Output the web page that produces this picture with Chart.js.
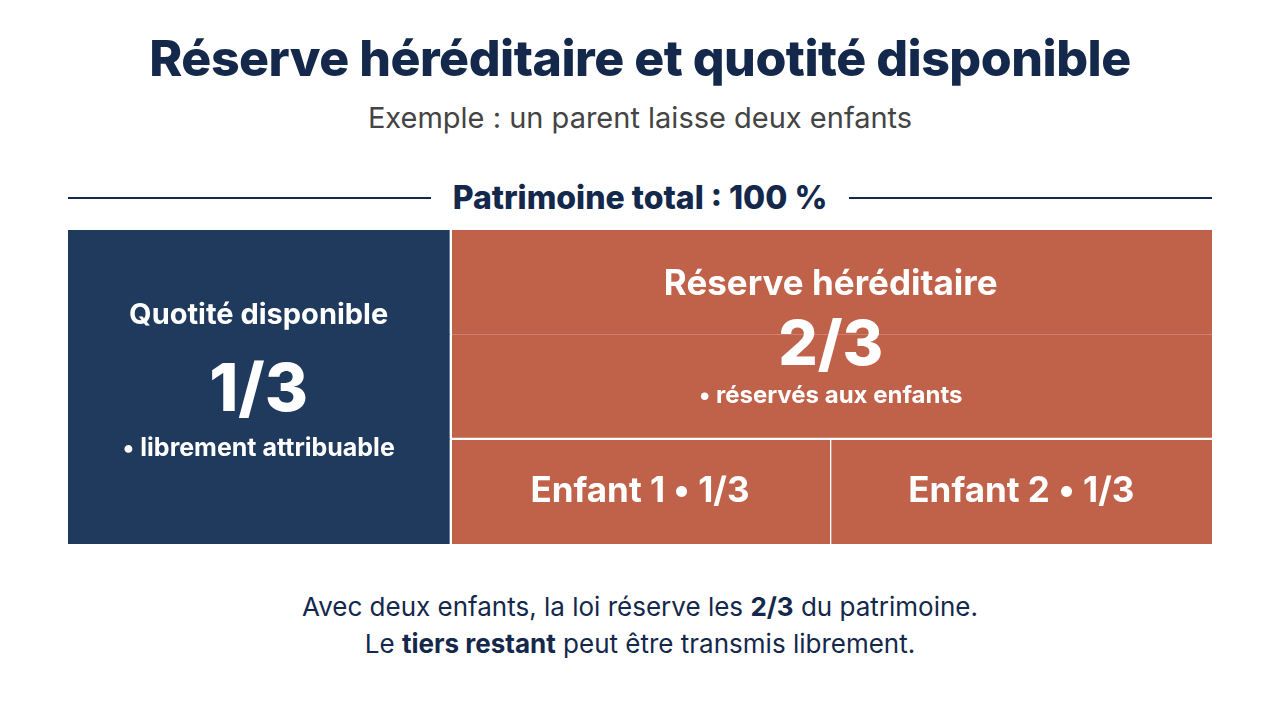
<!DOCTYPE html>
<html><head><meta charset="utf-8">
<script src="https://cdn.jsdelivr.net/npm/chart.js@4"></script>
<style>
  body{margin:0;width:1280px;height:720px;background:#fff;font-family:Inter,"Noto Sans",sans-serif;color:#14284b;position:relative;overflow:hidden}
  h1{position:absolute;top:28px;left:0;width:1280px;text-align:center;margin:0;font-size:50px;font-weight:800;letter-spacing:-0.5px}
  .sub{position:absolute;top:100px;width:1280px;text-align:center;font-size:29px;color:#444}
  .head{position:absolute;top:178px;left:68px;width:1144px;display:flex;align-items:center;gap:22px;font-size:32px;font-weight:800}
  .head span.l{flex:1;height:2px;background:#14284b}
  #wrap{position:absolute;left:68px;top:230px;width:1144px;height:314px}
  .foot{position:absolute;top:588px;width:1280px;text-align:center;font-size:26px;line-height:37px;color:#14284b}
</style></head><body>
<h1>Réserve héréditaire et quotité disponible</h1>
<div class="sub">Exemple : un parent laisse deux enfants</div>
<div class="head"><span class="l"></span>Patrimoine total : 100 %<span class="l"></span></div>
<div id="wrap"><canvas id="c"></canvas></div>
<div class="foot">Avec deux enfants, la loi réserve les <b>2/3</b> du patrimoine.<br>Le <b>tiers restant</b> peut être transmis librement.</div>
<script>
// rows of the block (top reserve spans the two first rows)
const rows = ["haut1", "haut2", "bas"];
// shares expressed in thirds of the estate
const quotite = [[0, 1], [0, 1], [0, 1]];
const reserve = [[1, 3], [1, 3], null];
const enfant1 = [null, null, [1, 2]];
const enfant2 = [null, null, [2, 3]];

const NAVY = "#1f3a5c", ORANGE = "#c0614a";

const labelsPlugin = {
  id: "blockLabels",
  afterDatasetsDraw(chart) {
    const { ctx, scales: { x, y } } = chart;
    const yTop = y.getPixelForValue(0) - y.height / 6;
    const yMid = y.getPixelForValue(1) + y.height / 6;
    const yBot = y.getPixelForValue(2);
    const txt = (s, px, py, size, w = 700) => {
      ctx.font = `${w} ${size}px Inter, "Noto Sans", sans-serif`;
      ctx.fillText(s, px, py);
    };
    ctx.save();
    ctx.fillStyle = "#fff";
    ctx.textAlign = "center";
    ctx.textBaseline = "middle";
    const qx = x.getPixelForValue(0.5);
    const qy = (yTop + y.bottom) / 2;
    txt("Quotité disponible", qx, qy - 72, 29);
    txt("1/3", qx, qy + 4, 66, 800);
    txt("• librement attribuable", qx, qy + 61, 25);
    const rx = x.getPixelForValue(2);
    const ry = (yTop + yMid) / 2;
    txt("Réserve héréditaire", rx, ry - 50, 35);
    txt("2/3", rx, ry + 12, 62, 800);
    txt("• réservés aux enfants", rx, ry + 61, 24);
    txt("Enfant 1 • 1/3", x.getPixelForValue(1.5), yBot, 35);
    txt("Enfant 2 • 1/3", x.getPixelForValue(2.5), yBot, 35);
    ctx.restore();
  }
};

new Chart(document.getElementById("c"), {
  type: "bar",
  data: {
    labels: rows,
    datasets: [
      { label: "Quotité disponible", data: quotite, backgroundColor: NAVY, borderWidth: 0 },
      { label: "Réserve héréditaire", data: reserve, backgroundColor: ORANGE, borderColor: "#fff",
        borderSkipped: false,
        borderWidth: c => c.dataIndex === 1 ? { left: 3, bottom: 2, top: 0, right: 0 } : { left: 3, top: 0, bottom: 0, right: 0 } },
      { label: "Enfant 1", data: enfant1, backgroundColor: ORANGE, borderColor: "#fff", borderSkipped: false,
        borderWidth: { left: 3, top: 1, bottom: 0, right: 1 } },
      { label: "Enfant 2", data: enfant2, backgroundColor: ORANGE, borderColor: "#fff", borderSkipped: false,
        borderWidth: { left: 1, top: 1, bottom: 0, right: 0 } }
    ]
  },
  options: {
    indexAxis: "y",
    responsive: true,
    maintainAspectRatio: false,
    animation: false,
    grouped: false,
    categoryPercentage: 1,
    barPercentage: 1,
    layout: { padding: 0 },
    scales: {
      x: { min: 0, max: 3, display: false },
      y: { display: false, offset: true }
    },
    plugins: { legend: { display: false }, tooltip: { enabled: false } }
  },
  plugins: [labelsPlugin]
});
</script>
</body></html>
